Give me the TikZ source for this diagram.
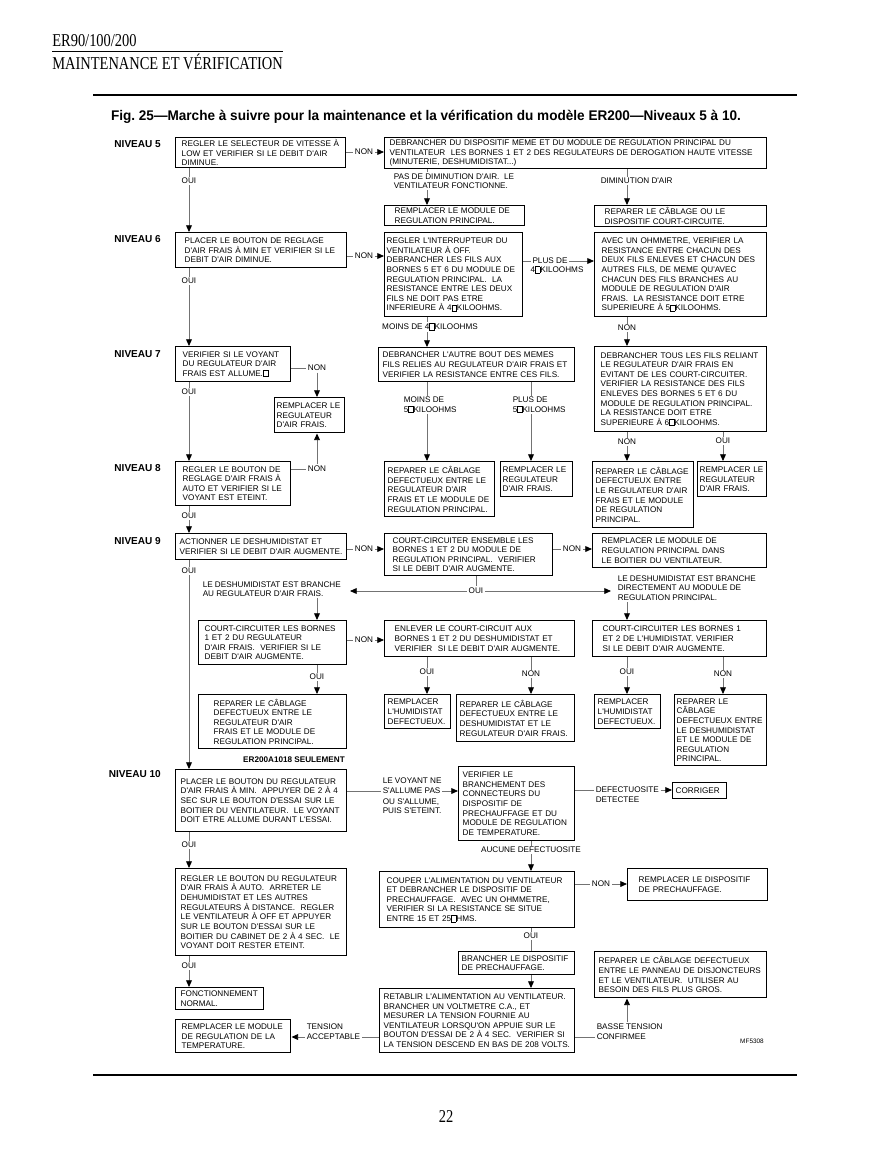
\documentclass[tikz,border=0pt]{standalone}
\usepackage{fontspec}
\setmainfont{Liberation Serif}
\newfontfamily\chartsans{Liberation Sans}
\newfontfamily\titlesans[FakeStretch=0.97]{Liberation Sans}
\newfontfamily\headserif[FakeStretch=0.8]{Liberation Serif}
\usetikzlibrary{positioning, arrows.meta, backgrounds}
\newcommand{\chartfont}{\chartsans\fontsize{5.6}{6.6}\selectfont}
\newcommand{\gbox}{{\fboxsep=0pt\fboxrule=0.4pt\fbox{\rule{0pt}{0.72em}\hspace{0.5em}}}}
\tikzset{
    box/.style n args={3}{rectangle, draw=black, line width=1pt, anchor=north west, align=left, font=\chartfont,
        /utils/exec={\pgfmathsetlengthmacro{\boxtw}{(#1-2*#3)*0.686}}, text width=\boxtw,
        inner xsep=#3*0.686pt, inner ysep=0.7pt, minimum height=#2*0.686pt},
    lvl/.style={anchor=east, font=\chartsans\bfseries\fontsize{6.9}{8}\selectfont},
    lbl/.style={font=\chartfont, fill=white, inner sep=1pt, align=left},
    note/.style={lbl, anchor=west},
    lin/.style={draw=black!55, line width=0.6pt},
    arr/.style={lin, -{Triangle[length=4.6pt, width=4pt, color=black]}}
}
\begin{document}
\begin{tikzpicture}[x=0.686pt, y=-0.686pt,
        headfont/.style={font=\headserif\fontsize{12.4}{14}\selectfont, inner sep=0pt}
    ]
    \useasboundingbox (0,0) rectangle (892,1155);
    \node[headfont, anchor=base west] (hdr) at (52,46) {ER90/100/200};
    \node[headfont, anchor=base west] (hds) at (52,69) {MAINTENANCE ET VÉRIFICATION};
    \draw[line width=0.5pt] (52,51) -- (283,51);
    \draw[line width=1.2pt] (93,95) -- (797,95);
    \draw[line width=1.2pt] (93,1075) -- (797,1075);
    \node[font=\titlesans\bfseries\fontsize{9.6}{11}\selectfont] (title) at (426,117) {Fig.~25—Marche à suivre pour la maintenance et la vérification du modèle ER200—Niveaux 5 à 10.};
    \node[headfont] (pg) at (446,1117) {22};

    \coordinate (colA) at (189,0);
    \coordinate (colF) at (317,0);
    \coordinate (colB) at (427,0);
    \coordinate (colD) at (531,0);
    \coordinate (colC) at (627,0);
    \coordinate (colE) at (723,0);
    \coordinate (tipL) at (350,591);
    \coordinate (tipR) at (611,591);

    \node[lvl] (lv5) at (166,144) {NIVEAU 5};
    \node[lvl] (lv6) at (166,239) {NIVEAU 6};
    \node[lvl] (lv7) at (166,354) {NIVEAU 7};
    \node[lvl] (lv8) at (166,468) {NIVEAU 8};
    \node[lvl] (lv9) at (166,541) {NIVEAU 9};
    \node[lvl] (lv10) at (166,774) {NIVEAU 10};

    \node[box={170}{30}{6}] (a5) at (175,137) {REGLER LE SELECTEUR DE VITESSE À\\LOW ET VERIFIER SI LE DEBIT D'AIR\\DIMINUE.};
    \node[box={382}{31}{5}] (b5) at (384,137) {DEBRANCHER DU DISPOSITIF MEME ET DU MODULE DE REGULATION PRINCIPAL DU\\VENTILATEUR~ LES BORNES 1 ET 2 DES REGULATEURS DE DEROGATION HAUTE VITESSE\\(MINUTERIE, DESHUMIDISTAT...)};
    \node[box={140}{20}{10}] (c5) at (384,205) {REMPLACER LE MODULE DE\\REGULATION PRINCIPAL.};
    \node[box={172}{21}{10}] (d5) at (594,205) {REPARER LE CÂBLAGE OU LE\\DISPOSITIF COURT-CIRCUITE.};

    \node[box={171}{35}{9}] (a6) at (175,232) {PLACER LE BOUTON DE REGLAGE\\D'AIR FRAIS À MIN ET VERIFIER SI LE\\DEBIT D'AIR DIMINUE.};
    \node[box={138}{84}{2}] (b6) at (384,232) {REGLER L'INTERRUPTEUR DU\\VENTILATEUR À OFF.\\DEBRANCHER LES FILS AUX\\BORNES 5 ET 6 DU MODULE DE\\REGULATION PRINCIPAL.~ LA\\RESISTANCE ENTRE LES DEUX\\FILS NE DOIT PAS ETRE\\INFERIEURE À 4\gbox KILOOHMS.};
    \node[box={172}{84}{7}] (c6) at (594,232) {AVEC UN OHMMETRE, VERIFIER LA\\RESISTANCE ENTRE CHACUN DES\\DEUX FILS ENLEVES ET CHACUN DES\\AUTRES FILS, DE MEME QU'AVEC\\CHACUN DES FILS BRANCHES AU\\MODULE DE REGULATION D'AIR\\FRAIS.~ LA RESISTANCE DOIT ETRE\\SUPERIEURE À 5\gbox KILOOHMS.};

    \node[box={115}{35}{7}] (a7) at (175,346) {VERIFIER SI LE VOYANT\\DU REGULATEUR D'AIR\\FRAIS EST ALLUME.\gbox};
    \node[box={70}{35}{2}] (r7) at (274,397) {REMPLACER LE\\REGULATEUR\\D'AIR FRAIS.};
    \node[box={196}{34}{4}] (b7) at (378,347) {DEBRANCHER L'AUTRE BOUT DES MEMES\\FILS RELIES AU REGULATEUR D'AIR FRAIS ET\\VERIFIER LA RESISTANCE ENTRE CES FILS.};
    \node[box={172}{85}{6}] (c7) at (594,346) {DEBRANCHER TOUS LES FILS RELIANT\\LE REGULATEUR D'AIR FRAIS EN\\EVITANT DE LES COURT-CIRCUITER.\\VERIFIER LA RESISTANCE DES FILS\\ENLEVES DES BORNES 5 ET 6 DU\\MODULE DE REGULATION PRINCIPAL.\\LA RESISTANCE DOIT ETRE\\SUPERIEURE À 6\gbox KILOOHMS.};

    \node[box={115}{44}{7}] (a8) at (175,461) {REGLER LE BOUTON DE\\REGLAGE D'AIR FRAIS À\\AUTO ET VERIFIER SI LE\\VOYANT EST ETEINT.};
    \node[box={110}{55}{3}] (b8a) at (384,461) {REPARER LE CÂBLAGE\\DEFECTUEUX ENTRE LE\\REGULATEUR D'AIR\\FRAIS ET LE MODULE DE\\REGULATION PRINCIPAL.};
    \node[box={72}{35}{2}] (b8b) at (500,461) {REMPLACER LE\\REGULATEUR\\D'AIR FRAIS.};
    \node[box={101}{66}{3}] (c8a) at (592,461) {REPARER LE CÂBLAGE\\DEFECTUEUX ENTRE\\LE REGULATEUR D'AIR\\FRAIS ET LE MODULE\\DE REGULATION\\PRINCIPAL.};
    \node[box={69}{35}{2}] (c8b) at (697,461) {REMPLACER LE\\REGULATEUR\\D'AIR FRAIS.};

    \node[box={171}{26}{4}] (a9) at (175,533) {ACTIONNER LE DESHUMIDISTAT ET\\VERIFIER SI LE DEBIT D'AIR AUGMENTE.};
    \node[box={168}{42}{8}] (b9) at (384,533) {COURT-CIRCUITER ENSEMBLE LES\\BORNES 1 ET 2 DU MODULE DE\\REGULATION PRINCIPAL.~ VERIFIER\\SI LE DEBIT D'AIR AUGMENTE.};
    \node[box={174}{34}{9}] (c9) at (592,533) {REMPLACER LE MODULE DE\\REGULATION PRINCIPAL DANS\\LE BOITIER DU VENTILATEUR.};
    \node[note] (brl9) at (201,589) {LE DESHUMIDISTAT EST BRANCHE\\AU REGULATEUR D'AIR FRAIS.};
    \node[note] (brr9) at (616,588) {LE DESHUMIDISTAT EST BRANCHE\\DIRECTEMENT AU MODULE DE\\REGULATION PRINCIPAL.};

    \node[box={148}{44}{6}] (a9b) at (198,620) {COURT-CIRCUITER LES BORNES\\1 ET 2 DU REGULATEUR\\D'AIR FRAIS.~ VERIFIER SI LE\\DEBIT D'AIR AUGMENTE.};
    \node[box={190}{36}{10}] (b9b) at (384,620) {ENLEVER LE COURT-CIRCUIT AUX\\BORNES 1 ET 2 DU DESHUMIDISTAT ET\\VERIFIER~ SI LE DEBIT D'AIR AUGMENTE.};
    \node[box={174}{36}{10}] (c9b) at (592,620) {COURT-CIRCUITER LES BORNES 1\\ET 2 DE L'HUMIDISTAT. VERIFIER\\SI LE DEBIT D'AIR AUGMENTE.};
    \node[box={148}{54}{15}] (a9c) at (198,694) {REPARER LE CÂBLAGE\\DEFECTUEUX ENTRE LE\\REGULATEUR D'AIR\\FRAIS ET LE MODULE DE\\REGULATION PRINCIPAL.};
    \node[box={66}{34}{3}] (b9c1) at (384,694) {REMPLACER\\L'HUMIDISTAT\\DEFECTUEUX.};
    \node[box={118}{47}{3}] (b9c2) at (456,694) {REPARER LE CÂBLAGE\\DEFECTUEUX ENTRE LE\\DESHUMIDISTAT ET LE\\REGULATEUR D'AIR FRAIS.};
    \node[box={66}{34}{3}] (c9c1) at (594,694) {REMPLACER\\L'HUMIDISTAT\\DEFECTUEUX.};
    \node[box={92}{71}{2}] (c9c2) at (674,694) {REPARER LE\\CÂBLAGE\\DEFECTUEUX ENTRE\\LE DESHUMIDISTAT\\ET LE MODULE DE\\REGULATION\\PRINCIPAL.};
    \node[font=\chartsans\bfseries\fontsize{5.6}{6.6}\selectfont] (seul) at (294,760) {ER200A1018 SEULEMENT};

    \node[box={171}{62}{5}] (a10) at (175,769) {PLACER LE BOUTON DU REGULATEUR\\D'AIR FRAIS À MIN.~ APPUYER DE 2 À 4\\SEC SUR LE BOUTON D'ESSAI SUR LE\\BOITIER DU VENTILATEUR.~ LE VOYANT\\DOIT ETRE ALLUME DURANT L'ESSAI.};
    \node[box={116}{74}{4}] (b10) at (458,766) {VERIFIER LE\\BRANCHEMENT DES\\CONNECTEURS DU\\DISPOSITIF DE\\PRECHAUFFAGE ET DU\\MODULE DE REGULATION\\DE TEMPERATURE.};
    \node[box={54}{16}{3}] (corr) at (672,782) {CORRIGER};
    \node[box={171}{87}{5}] (a10b) at (175,868) {REGLER LE BOUTON DU REGULATEUR\\D'AIR FRAIS À AUTO.~ ARRETER LE\\DEHUMIDISTAT ET LES AUTRES\\REGULATEURS À DISTANCE.~ REGLER\\LE VENTILATEUR À OFF ET APPUYER\\SUR LE BOUTON D'ESSAI SUR LE\\BOITIER DU CABINET DE 2 À 4 SEC.~ LE\\VOYANT DOIT RESTER ETEINT.};
    \node[box={195}{56}{7}] (b10b) at (379,871) {COUPER L'ALIMENTATION DU VENTILATEUR\\ET DEBRANCHER LE DISPOSITIF DE\\PRECHAUFFAGE.~ AVEC UN OHMMETRE,\\VERIFIER SI LA RESISTANCE SE SITUE\\ENTRE 15 ET 25\gbox HMS.};
    \node[box={140}{32}{11}] (c10b) at (627,868) {REMPLACER LE DISPOSITIF\\DE PRECHAUFFAGE.};
    \node[box={116}{23}{3}] (b10c) at (458,951) {BRANCHER LE DISPOSITIF\\DE PRECHAUFFAGE.};
    \node[box={172}{46}{4}] (c10d) at (594,951) {REPARER LE CÂBLAGE DEFECTUEUX\\ENTRE LE PANNEAU DE DISJONCTEURS\\ET LE VENTILATEUR.~ UTILISER AU\\BESOIN DES FILS PLUS GROS.};
    \node[box={88}{22}{5}] (a10c) at (175,987) {FONCTIONNEMENT\\NORMAL.};
    \node[box={195}{64}{4}] (b10d) at (379,988) {RETABLIR L'ALIMENTATION AU VENTILATEUR.\\BRANCHER UN VOLTMETRE C.A., ET\\MESURER LA TENSION FOURNIE AU\\VENTILATEUR LORSQU'ON APPUIE SUR LE\\BOUTON D'ESSAI DE 2 À 4 SEC.~ VERIFIER SI\\LA TENSION DESCEND EN BAS DE 208 VOLTS.};
    \node[box={115}{33}{6}] (a10e) at (175,1019) {REMPLACER LE MODULE\\DE REGULATION DE LA\\TEMPERATURE.};
    \node[font=\chartsans\fontsize{4.4}{5}\selectfont] (mf) at (752,1041) {MF5308};

    \node[lbl] (oui5) at (colA |- 0,181) {OUI};
    \node[lbl] (non5) at (364,152) {NON};
    \node[note] (pas5) at (392,181) {PAS DE DIMINUTION D'AIR.~ LE\\VENTILATEUR FONCTIONNE.};
    \node[note] (dim5) at (599,181) {DIMINUTION D'AIR};
    \node[lbl] (oui6) at (colA |- 0,281) {OUI};
    \node[lbl] (non6) at (364,256) {NON};
    \node[lbl] (plus6) at (550,261) {PLUS DE};
    \node[lbl] (kilo6) at (557,270) {4\gbox KILOOHMS};
    \node[lbl] (moins6) at (430,327) {MOINS DE 4\gbox KILOOHMS};
    \node[lbl] (non6c) at (colC |- 0,328) {NON};
    \node[lbl] (oui7) at (colA |- 0,392) {OUI};
    \node[lbl] (non7) at (colF |- 0,368) {NON};
    \node[note] (moins7) at (402,405) {MOINS DE\\5\gbox KILOOHMS};
    \node[note] (plus7) at (511,405) {PLUS DE\\5\gbox KILOOHMS};
    \node[lbl] (non7c) at (colC |- 0,442) {NON};
    \node[lbl] (oui7c) at (colE |- 0,441) {OUI};
    \node[lbl] (oui8) at (colA |- 0,516) {OUI};
    \node[lbl] (non8) at (colF |- 0,469) {NON};
    \node[lbl] (oui9) at (colA |- 0,571) {OUI};
    \node[lbl] (non9) at (364,549) {NON};
    \node[lbl] (non9b) at (572,549) {NON};
    \node[lbl] (oui9m) at (476,591) {OUI};
    \node[lbl] (non9c) at (364,640) {NON};
    \node[lbl] (ouiAb) at (colF |- 0,677) {OUI};
    \node[lbl] (ouiBb) at (colB |- 0,672) {OUI};
    \node[lbl] (nonBb) at (colD |- 0,674) {NON};
    \node[lbl] (ouiCb) at (colC |- 0,672) {OUI};
    \node[lbl] (nonCb) at (colE |- 0,674) {NON};
    \node[note] (vy10a) at (381,781) {LE VOYANT NE};
    \node[note] (vy10b) at (381,791) {S'ALLUME PAS};
    \node[note] (vy10c) at (381,806) {OU S'ALLUME,\\PUIS S'ETEINT.};
    \node[note] (def10) at (594,790) {DEFECTUOSITE};
    \node[note] (det10) at (594,800) {DETECTEE};
    \node[lbl] (auc10) at (colD |- 0,850) {AUCUNE DEFECTUOSITE};
    \node[lbl] (oui10) at (colA |- 0,845) {OUI};
    \node[lbl] (non10) at (601,884) {NON};
    \node[lbl] (oui10c) at (colD |- 0,936) {OUI};
    \node[lbl] (oui10b) at (colA |- 0,966) {OUI};
    \node[note] (ten10) at (305,1027) {TENSION};
    \node[note] (acc10) at (305,1037) {ACCEPTABLE};
    \node[note] (bas10) at (595,1027) {BASSE TENSION};
    \node[note] (conf10) at (595,1037) {CONFIRMEE};

    \begin{scope}[on background layer]
        \draw[arr] (colA |- a5.south) -- (colA |- a6.north);
        \draw[arr] (colA |- a6.south) -- (colA |- a7.north);
        \draw[arr] (colA |- a7.south) -- (colA |- a8.north);
        \draw[arr] (colA |- a8.south) -- (colA |- a9.north);
        \draw[arr] (colA |- a9.south) -- (colA |- a10.north);
        \draw[arr] (colA |- a10.south) -- (colA |- a10b.north);
        \draw[arr] (colA |- a10b.south) -- (colA |- a10c.north);

        \draw[arr] (a5.east |- non5) -- (b5.west |- non5);
        \draw[arr] (colB |- b5.south) -- (colB |- c5.north);
        \draw[arr] (colC |- b5.south) -- (colC |- d5.north);

        \draw[arr] (a6.east |- non6) -- (b6.west |- non6);
        \draw[arr] (b6.east |- plus6) -- (c6.west |- plus6);
        \draw[arr] (colB |- b6.south) -- (colB |- b7.north);
        \draw[arr] (colC |- c6.south) -- (colC |- c7.north);

        \draw[lin] (a7.east |- non7) -- (non7);
        \draw[arr] (non7) -- (non7 |- r7.north);
        \draw[lin] (a8.east |- non8) -- (non8);
        \draw[arr] (non8) -- (non8 |- r7.south);
        \draw[arr] (colB |- b7.south) -- (colB |- b8a.north);
        \draw[arr] (colD |- b7.south) -- (colD |- b8b.north);
        \draw[arr] (colC |- c7.south) -- (colC |- c8a.north);
        \draw[arr] (colE |- c7.south) -- (colE |- c8b.north);

        \draw[arr] (a9.east |- non9) -- (b9.west |- non9);
        \draw[arr] (b9.east |- non9b) -- (c9.west |- non9b);
        \draw[lin] (oui9m |- b9.south) -- (oui9m);
        \draw[arr] (oui9m) -- (tipL);
        \draw[arr] (oui9m) -- (tipR);
        \draw[arr] (colF |- brl9.south) -- (colF |- a9b.north);
        \draw[arr] (colC |- brr9.south) -- (colC |- c9b.north);
        \draw[arr] (a9b.east |- non9c) -- (b9b.west |- non9c);
        \draw[arr] (colF |- a9b.south) -- (colF |- a9c.north);
        \draw[arr] (colB |- b9b.south) -- (colB |- b9c1.north);
        \draw[arr] (colD |- b9b.south) -- (colD |- b9c2.north);
        \draw[arr] (colC |- c9b.south) -- (colC |- c9c1.north);
        \draw[arr] (colE |- c9b.south) -- (colE |- c9c2.north);

        \draw[lin] (a10.east |- vy10b) -- (vy10b.west);
        \draw[arr] (vy10b.east) -- (b10.west |- vy10b);
        \draw[lin] (b10.east |- def10) -- (def10.west);
        \draw[arr] (def10.east) -- (corr.west |- def10);
        \draw[arr] (colD |- b10.south) -- (colD |- b10b.north);
        \draw[arr] (b10b.east |- non10) -- (c10b.west |- non10);
        \draw[lin] (colD |- b10b.south) -- (colD |- b10c.north);
        \draw[arr] (colD |- b10c.south) -- (colD |- b10d.north);
        \draw[lin] (b10d.west |- acc10) -- (acc10.east);
        \draw[arr] (acc10.west) -- (a10e.east |- acc10);
        \draw[lin] (b10d.east |- conf10) -- (conf10.west);
        \draw[arr] (colC |- bas10.north) -- (colC |- c10d.south);
    \end{scope}
\end{tikzpicture}
\end{document}
